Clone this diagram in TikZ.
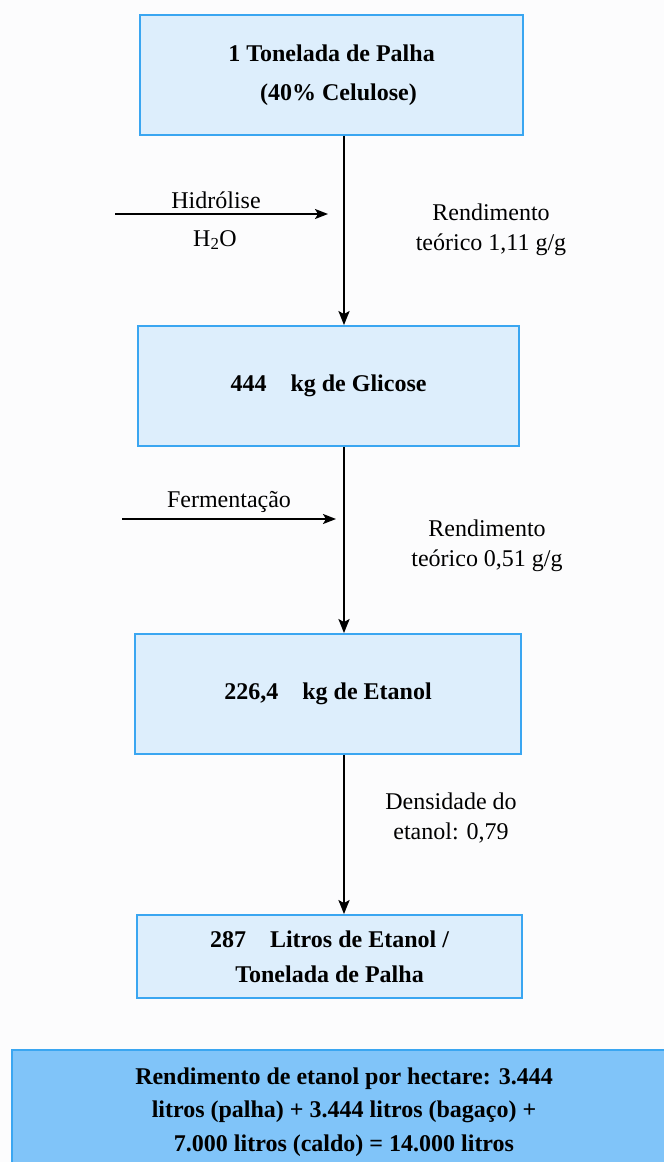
\documentclass[tikz,border=0pt]{standalone}
\usepackage{fontspec}
\setmainfont{Liberation Serif}
\usetikzlibrary{arrows.meta}
\definecolor{boxfill}{HTML}{DDEEFC}
\definecolor{boxline}{HTML}{3AA6F1}
\definecolor{sumfill}{HTML}{80C4F9}
\definecolor{paper}{HTML}{FCFCFD}

\begin{document}
\begin{tikzpicture}[x=1pt, y=-1pt,
  stage/.style={draw=boxline, line width=1.8pt, fill=boxfill, minimum height=120pt,
    align=center, inner sep=0pt, font=\bfseries\fontsize{24}{39}\selectfont},
  flow/.style={-{Stealth[length=14pt,width=11pt,inset=3pt]}, line width=2.6pt},
  feed/.style={-{Stealth[length=13pt,width=10pt,inset=3pt]}, line width=2pt},
  note/.style={align=center, inner sep=0pt, font=\fontsize{24}{30}\selectfont}]
  \fill[paper] (0,0) rectangle (664,1162);
  \useasboundingbox (0,0) rectangle (664,1162);
  % Stages of the process
  \node[stage, minimum width=383pt] (palha) at (331.5,75)
    {1 Tonelada de Palha\\ \hspace*{14pt}(40\% Celulose)};
  \node[stage, minimum width=381pt] (glicose) at (328.5,386) {444\quad kg de Glicose};
  \node[stage, minimum width=386pt] (etanol) at (328,694) {226,4\quad kg de Etanol};
  \node[stage, minimum width=385pt, minimum height=83pt,
    font=\bfseries\fontsize{24}{35}\selectfont] (litros) at (329.5,956.5)
    {287\quad Litros de Etanol /\\ Tonelada de Palha};
  % Summary per hectare
  \node[draw=boxline, line width=1.8pt, fill=sumfill, minimum width=664pt,
    minimum height=124pt, align=center, inner sep=0pt,
    font=\bfseries\fontsize{24}{33.5}\selectfont] (hectare) at (344,1112)
    {Rendimento de etanol por hectare: 3.444\\
     litros (palha) + 3.444 litros (bagaço) +\\
     7.000 litros (caldo) = 14.000 litros};
  % Main flow
  \coordinate (axis) at (344,0);
  \draw[flow] (palha.south -| axis) -- (glicose.north -| axis);
  \draw[flow] (glicose.south -| axis) -- (etanol.north -| axis);
  \draw[flow] (etanol.south -| axis) -- (litros.north -| axis);
  % Inputs
  \coordinate (hin) at (115,214);
  \coordinate (hout) at (328,214);
  \draw[feed] (hin) -- (hout);
  \node[note] (hidrolise) at (216,200) {Hidrólise};
  \node[note] (agua) at (215,240) {H\textsubscript{2}O};
  \coordinate (fin) at (122,519);
  \coordinate (fout) at (336,519);
  \draw[feed] (fin) -- (fout);
  \node[note] (fermentacao) at (229,502) {Fermentação};
  % Conversion factors
  \node[note] (rend1) at (491,230) {Rendimento\\ teórico 1,11 g/g};
  \node[note] (rend2) at (487,546) {Rendimento\\ teórico 0,51 g/g};
  \node[note] (densidade) at (451,818) {Densidade do\\ etanol: 0,79};
\end{tikzpicture}
\end{document}
